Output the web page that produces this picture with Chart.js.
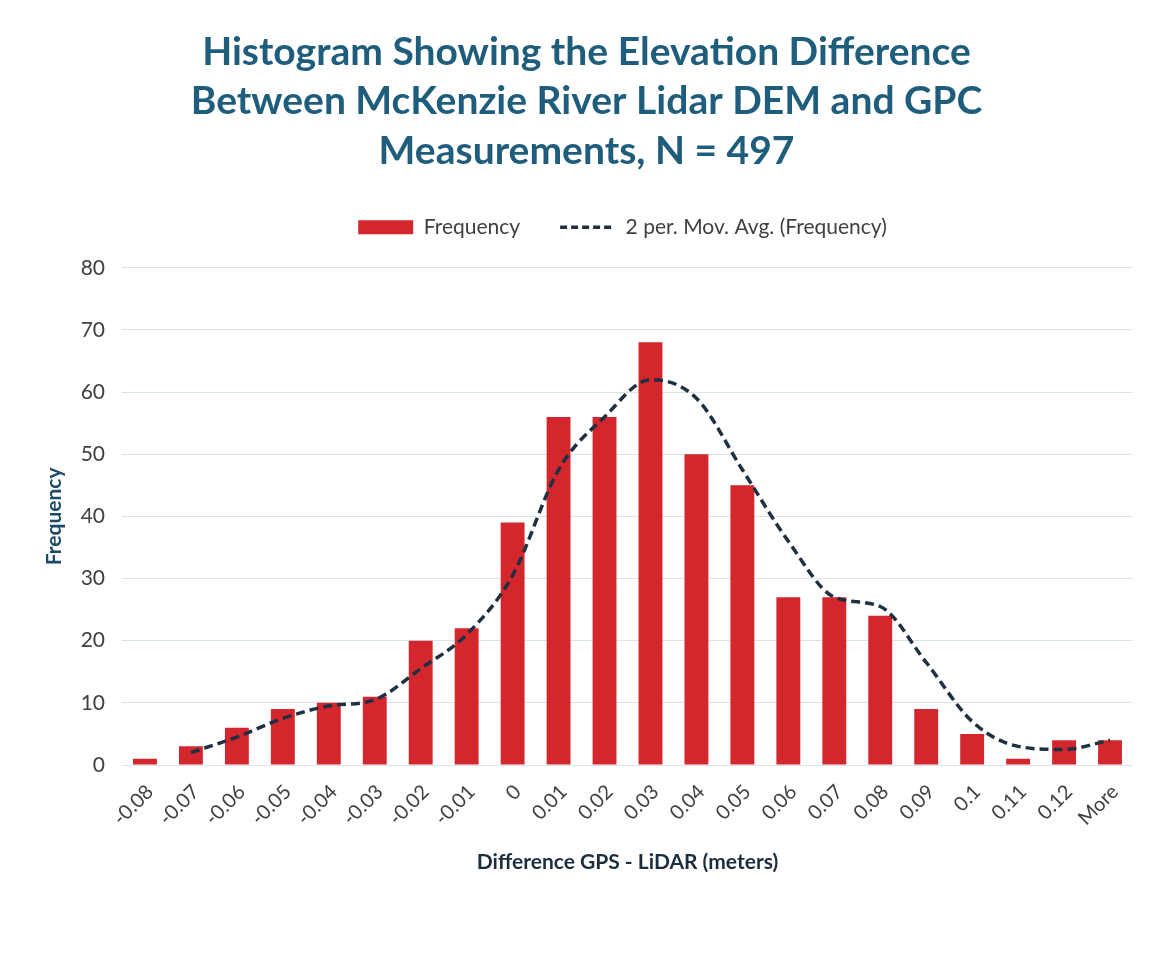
<!DOCTYPE html>
<html>
<head>
<meta charset="utf-8">
<script src="https://cdn.jsdelivr.net/npm/chart.js@4"></script>
<style>
  html, body { margin: 0; padding: 0; background: #ffffff; }
  #wrap { width: 1158px; height: 966px; position: relative; }
</style>
</head>
<body>
<div id="wrap"><canvas id="histChart"></canvas></div>
<script>
// Bins (upper limits) and counts
const bins = ['-0.08', '-0.07', '-0.06', '-0.05', '-0.04', '-0.03', '-0.02', '-0.01', '0',
  '0.01', '0.02', '0.03', '0.04', '0.05', '0.06', '0.07', '0.08', '0.09', '0.1', '0.11', '0.12', 'More'];
const frequency = [1, 3, 6, 9, 10, 11, 20, 22, 39, 56, 56, 68, 50, 45, 27, 27, 24, 9, 5, 1, 4, 4];
// 2 period moving average trendline, as drawn
const movAvg = [null, 2, 4.5, 7.5, 9.5, 10.5, 15.5, 21, 30.5, 47.5, 56, 62, 59, 47.5, 36, 27, 25.5, 16.5, 7, 3, 2.5, 4];
const yTicks = [0, 10, 20, 30, 40, 50, 60, 70, 80];

const titleLines = ['Histogram Showing the Elevation Difference',
  'Between McKenzie River Lidar DEM and GPC', 'Measurements, N = 497'];

const FONT = 'Lato, "Open Sans", sans-serif';
const barRed = '#d4272d';
const lineNavy = '#1e3042';

// nudge title / legend sideways and give the legend a fixed height
const nudgePlugin = {
  id: 'nudge',
  beforeLayout(chart) {
    const lg = chart.legend;
    if (lg && !lg._fitWrapped) {
      const origFit = lg.fit;
      lg.fit = function () {
        origFit.call(this);
        this.height = 91;
      };
      lg._fitWrapped = true;
    }
  },
  afterLayout(chart) {
    const t = chart.titleBlock;
    if (t) { t.left += 20; t.right += 20; }
    const lg = chart.legend;
    if (lg) { lg.left += 56; lg.right += 56; }
  }
};

const ctx = document.getElementById('histChart').getContext('2d');

const histChart = new Chart(ctx, {
  data: {
    labels: bins,
    datasets: [
      {
        type: 'line',
        label: '2 per. Mov. Avg. (Frequency)',
        data: movAvg,
        borderColor: lineNavy,
        backgroundColor: lineNavy,
        borderWidth: 3.5,
        borderDash: [9, 5],
        pointRadius: 0,
        tension: 0.4,
        cubicInterpolationMode: 'monotone',
        order: 1
      },
      {
        type: 'bar',
        label: 'Frequency',
        data: frequency,
        backgroundColor: barRed,
        borderWidth: 0,
        barPercentage: 0.52,
        categoryPercentage: 1.0,
        order: 2
      }
    ]
  },
  options: {
    responsive: true,
    maintainAspectRatio: false,
    animation: false,
    layout: { padding: { left: 0, right: 25, top: 0, bottom: 0 } },
    plugins: {
      title: {
        display: true,
        text: titleLines,
        color: '#1f5d7c',
        font: { family: FONT, size: 39, weight: 'bold', lineHeight: 1.28 },
        padding: { top: 27, bottom: 0 }
      },
      legend: {
        display: true,
        position: 'top',
        reverse: true,
        labels: {
          color: '#404040',
          font: { family: FONT, size: 21 },
          usePointStyle: true,
          boxWidth: 55,
          boxHeight: 14,
          pointStyleWidth: 55,
          padding: 40,
          generateLabels: function (chart) {
            const items = Chart.defaults.plugins.legend.labels.generateLabels(chart);
            items.forEach(function (it) {
              const ds = chart.data.datasets[it.datasetIndex];
              if (ds.type === 'line') {
                it.pointStyle = 'line';
                it.lineWidth = 3.5;
                it.lineDash = [7, 4];
              } else {
                it.pointStyle = 'rect';
                it.lineWidth = 0;
              }
            });
            return items;
          }
        }
      },
      tooltip: { enabled: false }
    },
    scales: {
      x: {
        grid: { display: false, drawTicks: false },
        border: { display: false },
        ticks: {
          color: '#404040',
          font: { family: FONT, size: 20 },
          minRotation: 45,
          maxRotation: 45,
          autoSkip: false,
          padding: 15,
          labelOffset: 5
        },
        title: {
          display: true,
          text: 'Difference GPS - LiDAR (meters)',
          color: '#1c2e3e',
          font: { family: FONT, size: 21, weight: 'bold' },
          padding: { top: 0, bottom: 91 }
        },
        afterFit: function (scale) { scale.height = 201; }
      },
      y: {
        min: 0,
        max: 80,
        afterBuildTicks: function (scale) {
          scale.ticks = yTicks.map(function (v) { return { value: v }; });
        },
        grid: { color: '#d8e4ec', lineWidth: 1, drawTicks: false },
        border: { display: false },
        ticks: {
          color: '#404040',
          font: { family: FONT, size: 21 },
          padding: 17
        },
        title: {
          display: true,
          text: 'Frequency',
          color: '#1d4a66',
          font: { family: FONT, size: 21, weight: 'bold' },
          padding: { top: 42, bottom: 0 }
        },
        afterFit: function (scale) { scale.width = 122; }
      }
    }
  },
  plugins: [nudgePlugin]
});
</script>
</body>
</html>
